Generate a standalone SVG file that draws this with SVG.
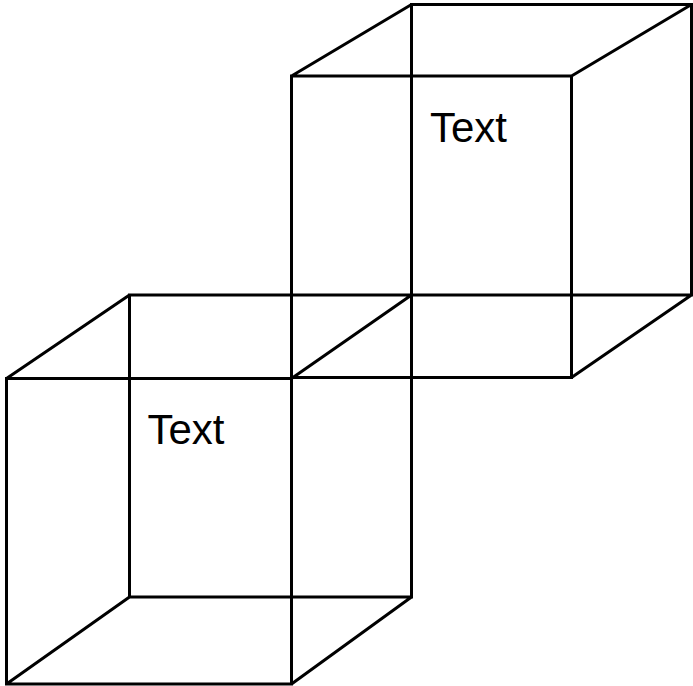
<svg xmlns="http://www.w3.org/2000/svg" width="693" height="686" viewBox="0 0 693 686">
<style>
.e{fill:none;stroke:#000;stroke-width:3;stroke-linejoin:miter}
.t{font-family:"Liberation Sans",Arial,sans-serif;font-size:42px;fill:#000}
</style>
<rect width="693" height="686" fill="#fff"/>
<g id="cube-top">
<path class="e" d="M291.5 76H571.5V377.5H291.5ZM411.5 4.500H691.500V295H411.500ZM291.500 76L411.500 4.500M571.500 76L691.500 4.500M571.500 377.500L691.500 295"/>
<text class="t" x="430" y="142">Text</text>
</g>
<g id="cube-bottom">
<path class="e" d="M6.500 378.500H291.500V684H6.500ZM129.500 295H411.500V597H129.500ZM6.500 378.500L129.500 295M291.500 378.500L411.500 295M6.500 684L129.500 597M291.500 684L411.500 597"/>
<text class="t" x="147.500" y="444">Text</text>
</g>
</svg>
